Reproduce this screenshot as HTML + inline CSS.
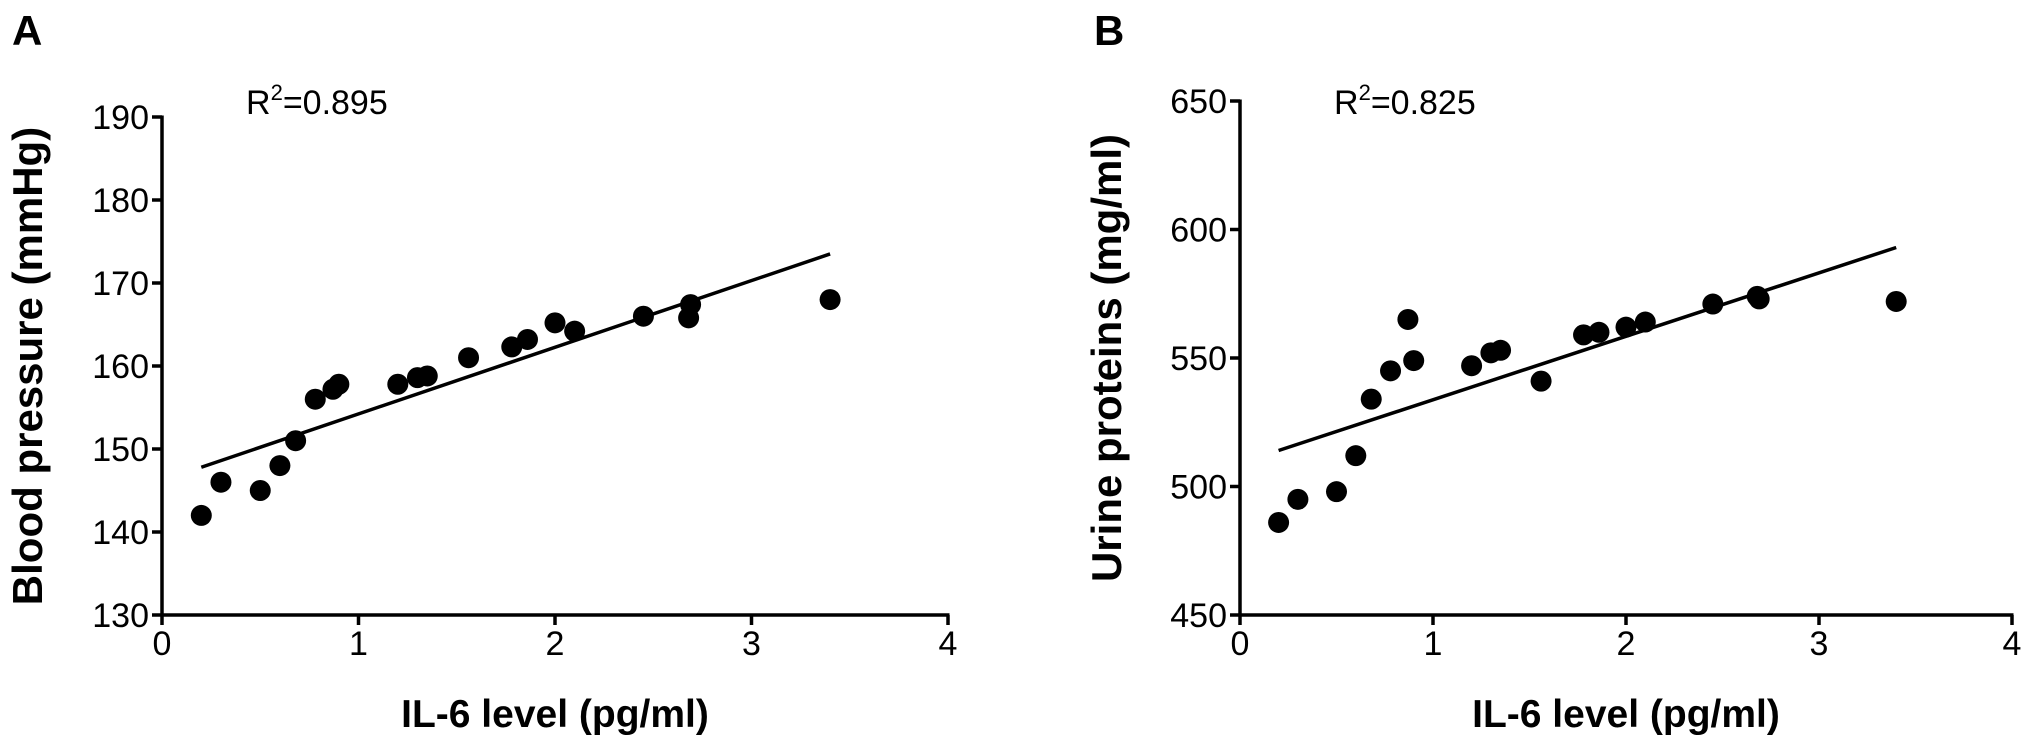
<!DOCTYPE html>
<html><head><meta charset="utf-8"><style>
html,body{margin:0;padding:0;background:#fff;}
svg{display:block;font-family:"Liberation Sans",Arial,sans-serif;}
</style></head><body>
<svg id="chart" width="2031" height="741" viewBox="0 0 2031 741"></svg>
<script>
const xsA = [0.2,0.3,0.5,0.6,0.68,0.78,0.87,0.9,1.2,1.3,1.35,1.56,1.78,1.86,2.0,2.1,2.45,2.68,2.69,3.4];
const ysA = [142,146,145,148,151,156,157.2,157.8,157.8,158.6,158.8,161,162.3,163.2,165.2,164.2,166,165.8,167.4,168];
const fitA = [[0.2,147.8],[3.4,173.5]];
const yTicksA = [130,140,150,160,170,180,190];
const xsB = [0.2,0.3,0.5,0.6,0.68,0.78,0.87,0.9,1.2,1.3,1.35,1.56,1.78,1.86,2.0,2.1,2.45,2.68,2.69,3.4];
const ysB = [486,495,498,512,534,545,565,549,547,552,553,541,559,560,562,564,571,574,573,572];
const fitB = [[0.2,514],[3.4,593]];
const yTicksB = [450,500,550,600,650];
const xTicks = [0,1,2,3,4];

const NS="http://www.w3.org/2000/svg";
const svg=document.getElementById('chart');
function mk(tag,attrs,parent){const e=document.createElementNS(NS,tag);for(const k in attrs)e.setAttribute(k,attrs[k]);(parent||svg).appendChild(e);return e;}

function panel(cfg){
  const g=mk('g',{});
  
  
  const sx=v=>cfg.x0+(v-0)/(4-0)*(cfg.x1-cfg.x0);
  const sy=v=>cfg.yb+(v-cfg.ymin)/(cfg.ymax-cfg.ymin)*(cfg.yt-cfg.yb);
  const ya=mk('line',{x1:cfg.x0,y1:sy(cfg.ymin)+1.5,x2:cfg.x0,y2:sy(cfg.ymax)-1.5,stroke:'#000','stroke-width':3.5},g);
  
  
  const xa=mk('line',{x1:cfg.x0-1.5,y1:cfg.yb,x2:cfg.x1+1.5,y2:cfg.yb,stroke:'#000','stroke-width':3.5},g);
  
  
  cfg.yTicks.forEach(t=>{
    const y=sy(t);
    mk('line',{x1:cfg.x0-10,y1:y,x2:cfg.x0,y2:y,stroke:'#000','stroke-width':3.5},g);
    const tx=mk('text',{x:cfg.x0-13,y:y+12,'text-anchor':'end','font-size':34},g);
    tx.textContent=t;
    
    
  });
  xTicks.forEach(t=>{
    const x=sx(t);
    mk('line',{x1:x,y1:cfg.yb,x2:x,y2:cfg.yb+10,stroke:'#000','stroke-width':3.5},g);
    const tx=mk('text',{x:x,y:cfg.yb+40,'text-anchor':'middle','font-size':34},g);
    tx.textContent=t;
    
    
  });
  const fl=mk('line',{x1:sx(cfg.fit[0][0]),y1:sy(cfg.fit[0][1]),x2:sx(cfg.fit[1][0]),y2:sy(cfg.fit[1][1]),stroke:'#000','stroke-width':3.5},g);
  
  
  cfg.xs.forEach((v,i)=>{
    const c=mk('circle',{cx:sx(v),cy:sy(cfg.ys[i]),r:10.5,fill:'#000'},g);
    
    
  });
  const r2=mk('text',{x:cfg.r2x,y:114,'font-size':34},g);
  r2.innerHTML='R<tspan dy="-14" font-size="22">2</tspan><tspan dy="14">='+cfg.r2+'</tspan>';
  
  
  const xt=mk('text',{x:(cfg.x0+cfg.x1)/2,y:727,'text-anchor':'middle','font-size':39,'font-weight':'bold'},g);
  xt.textContent='IL-6 level (pg/ml)';
  
  
  const yc=(cfg.yt+cfg.yb)/2;
  const yt=mk('text',{x:cfg.ytx,y:yc,'text-anchor':'middle','font-size':42,'font-weight':'bold',transform:'rotate(-90 '+cfg.ytx+' '+yc+')'},g);
  yt.textContent=cfg.ytitle;
  
  
  const pl=mk('text',{x:cfg.lx,y:45,'font-size':42,'font-weight':'bold'},g);
  pl.textContent=cfg.letter;
  
  
}
panel({name:'panel-a',x0:162,x1:948,yt:117,yb:615,ymin:130,ymax:190,yTicks:yTicksA,xs:xsA,ys:ysA,fit:fitA,r2:'0.895',r2x:246,ytitle:'Blood pressure (mmHg)',ytx:42,letter:'A',lx:12});
panel({name:'panel-b',x0:1240,x1:2012,yt:101,yb:615,ymin:450,ymax:650,yTicks:yTicksB,xs:xsB,ys:ysB,fit:fitB,r2:'0.825',r2x:1334,ytitle:'Urine proteins (mg/ml)',ytx:1121,letter:'B',lx:1094});
</script>
</body></html>
